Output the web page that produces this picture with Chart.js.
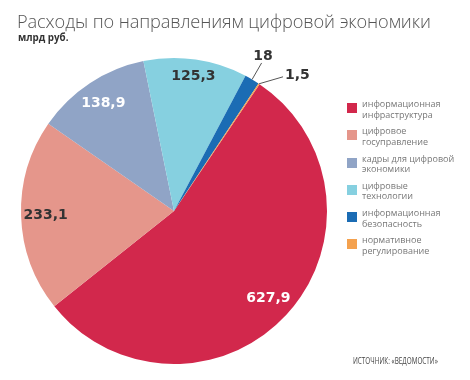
<!DOCTYPE html>
<html>
<head>
<meta charset="utf-8">
<script src="https://cdn.jsdelivr.net/npm/chart.js@4/dist/chart.umd.min.js"></script>
<style>
  html, body { margin: 0; padding: 0; background: #fff; }
  #wrap { position: relative; width: 470px; height: 380px; overflow: hidden; }
  #chart { position: absolute; left: 0; top: 0; }
  .title { position: absolute; left: 17px; top: 9px; font-family: "Open Sans", "Noto Sans", sans-serif;
           font-weight: 300; font-size: 18.2px; color: #555; white-space: nowrap; letter-spacing: -0.1px; }
  .unit { position: absolute; left: 18px; top: 31px; font-family: "Open Sans", "Noto Sans", sans-serif;
          font-weight: 700; font-size: 9.8px; color: #333; }
  #legend { position: absolute; left: 347px; top: 99px; font-family: "Open Sans", "Noto Sans", sans-serif;
            font-size: 9px; color: #777; line-height: 10.5px; }
  .item { position: relative; height: 27.3px; padding-left: 15px; white-space: nowrap; }
  .sw { position: absolute; left: 0; top: 4px; width: 10px; height: 10px; }
  .source { position: absolute; left: 353px; top: 355px; font-family: "Open Sans", "Noto Sans", sans-serif;
            font-size: 8.5px; color: #444; white-space: nowrap; transform: scaleX(0.75); transform-origin: 0 0; }
</style>
</head>
<body>
<div id="wrap">
  <canvas id="chart" width="470" height="380"></canvas>
  <div class="title">Расходы по направлениям цифровой экономики</div>
  <div class="unit">млрд руб.</div>
  <div id="legend"></div>
  <div class="source">ИСТОЧНИК: «ВЕДОМОСТИ»</div>
</div>
<script>
// data
const categories = [
    ['информационная', 'инфраструктура'],
    ['цифровое', 'госуправление'],
    ['кадры для цифровой', 'экономики'],
    ['цифровые', 'технологии'],
    ['информационная', 'безопасность'],
    ['нормативное', 'регулирование']
];
const values = [627.9, 233.1, 138.9, 125.3, 18, 1.5];
const valueLabels = ['627,9', '233,1', '138,9', '125,3', '18', '1,5'];

const colors = ['#d2284c', '#e5968b', '#90a4c6', '#86d0e0', '#1b6cb4', '#f4a14e'];
const labelColors = ['#fff', '#333', '#fff', '#333', '#333', '#333'];

// build the html legend
const legendEl = document.getElementById('legend');
categories.forEach((lines, i) => {
    const item = document.createElement('div');
    item.className = 'item';
    item.innerHTML = '<span class="sw" style="background:' + colors[i] + '"></span>' + lines.join('<br>');
    legendEl.appendChild(item);
});

// value labels, with leader lines for the thin slices
const valueLabelPlugin = {
    id: 'valueLabels',
    afterDatasetsDraw(chart) {
        const ctx = chart.ctx;
        const arcs = chart.getDatasetMeta(0).data;
        ctx.save();
        ctx.font = 'bold 14px "DejaVu Sans", sans-serif';
        ctx.textBaseline = 'middle';
        arcs.forEach((arc, i) => {
            const mid = (arc.startAngle + arc.endAngle) / 2;
            const r = arc.outerRadius;
            if (i < 4) {
                const f = i === 3 ? 0.89 : 0.84;
                ctx.fillStyle = labelColors[i];
                ctx.textAlign = 'center';
                ctx.fillText(valueLabels[i], arc.x + Math.cos(mid) * r * f, arc.y + Math.sin(mid) * r * f);
                return;
            }
            const ex = arc.x + Math.cos(mid) * r;
            const ey = arc.y + Math.sin(mid) * r;
            ctx.strokeStyle = '#555';
            ctx.lineWidth = 1;
            ctx.beginPath();
            ctx.moveTo(ex, ey);
            ctx.fillStyle = labelColors[i];
            if (i === 4) {
                ctx.lineTo(ex + 9.5, ey - 16.5);
                ctx.stroke();
                ctx.textAlign = 'center';
                ctx.fillText(valueLabels[i], ex + 11, ey - 23);
            } else {
                ctx.lineTo(ex + 24, ey - 7);
                ctx.stroke();
                ctx.textAlign = 'left';
                ctx.fillText(valueLabels[i], ex + 26, ey - 8);
            }
        });
        ctx.restore();
    }
};

new Chart(document.getElementById('chart'), {
    type: 'pie',
    data: {
        labels: categories.map(c => c.join(' ')),
        datasets: [{
            data: values,
            backgroundColor: colors,
            borderWidth: 0
        }]
    },
    options: {
        responsive: false,
        animation: false,
        rotation: 34,
        layout: { padding: { left: 21, top: 58, right: 143, bottom: 16 } },
        plugins: {
            legend: { display: false },
            tooltip: { enabled: false }
        }
    },
    plugins: [valueLabelPlugin]
});
</script>
</body>
</html>
